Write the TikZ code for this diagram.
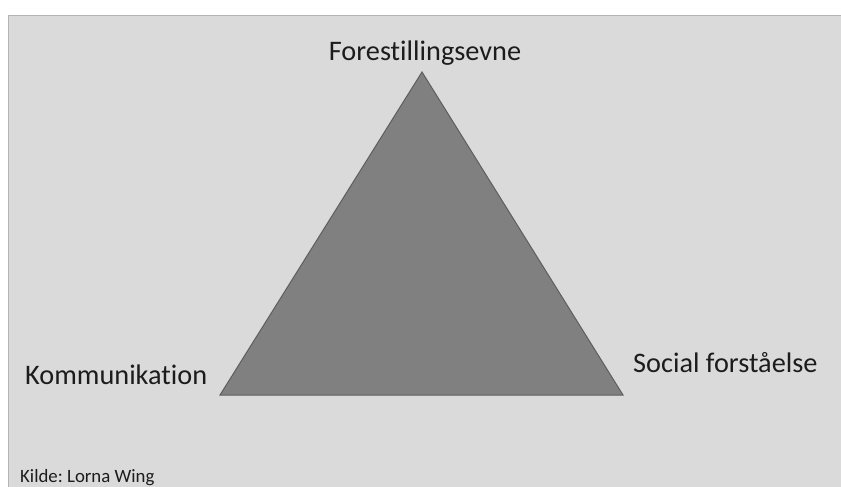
\documentclass[tikz,border=0pt]{standalone}
\usepackage{fontspec}
\setmainfont{Carlito}[Ligatures={NoCommon}]
\usepackage{tikz}
\definecolor{panelgray}{HTML}{DADADA}
\definecolor{edgegray}{HTML}{B4B4B4}
\definecolor{trifill}{HTML}{808080}
\definecolor{tridraw}{HTML}{5E5E5E}
\definecolor{labeltext}{HTML}{1C1C1C}
\frenchspacing

\begin{document}
\begin{tikzpicture}[
  x=1pt,y=-1pt,
  lbl/.style={inner sep=0pt,anchor=base west,text=labeltext,font=\fontsize{28.3}{32}\selectfont},
  src/.style={inner sep=0pt,anchor=base west,text=labeltext,font=\fontsize{18.8}{22}\selectfont},
  tri/.style={fill=trifill,draw=tridraw,line width=1pt,line join=miter}
]
\useasboundingbox (0,0) rectangle (841,487);
\fill[white] (0,0) rectangle (841,487);
\fill[panelgray] (8,15) rectangle (841,487);
\draw[edgegray,line width=1.2pt] (8.6,487) -- (8.6,15.6) -- (841,15.6);
% the triangle
\coordinate (top) at (422,72);
\coordinate (left) at (220,395);
\coordinate (right) at (623,395);
\draw[tri] (top) -- (left) -- (right) -- cycle;
% labels
\node[lbl,anchor=base] (fore) at (425,61) {Forestillingsevne};
\node[lbl] (komm) at (25,384) {Kommunikation};
\node[lbl] (soc) at (633,372) {Social forståelse};
\node[src] (kilde) at (20,482) {Kilde: Lorna Wing};
\end{tikzpicture}
\end{document}
